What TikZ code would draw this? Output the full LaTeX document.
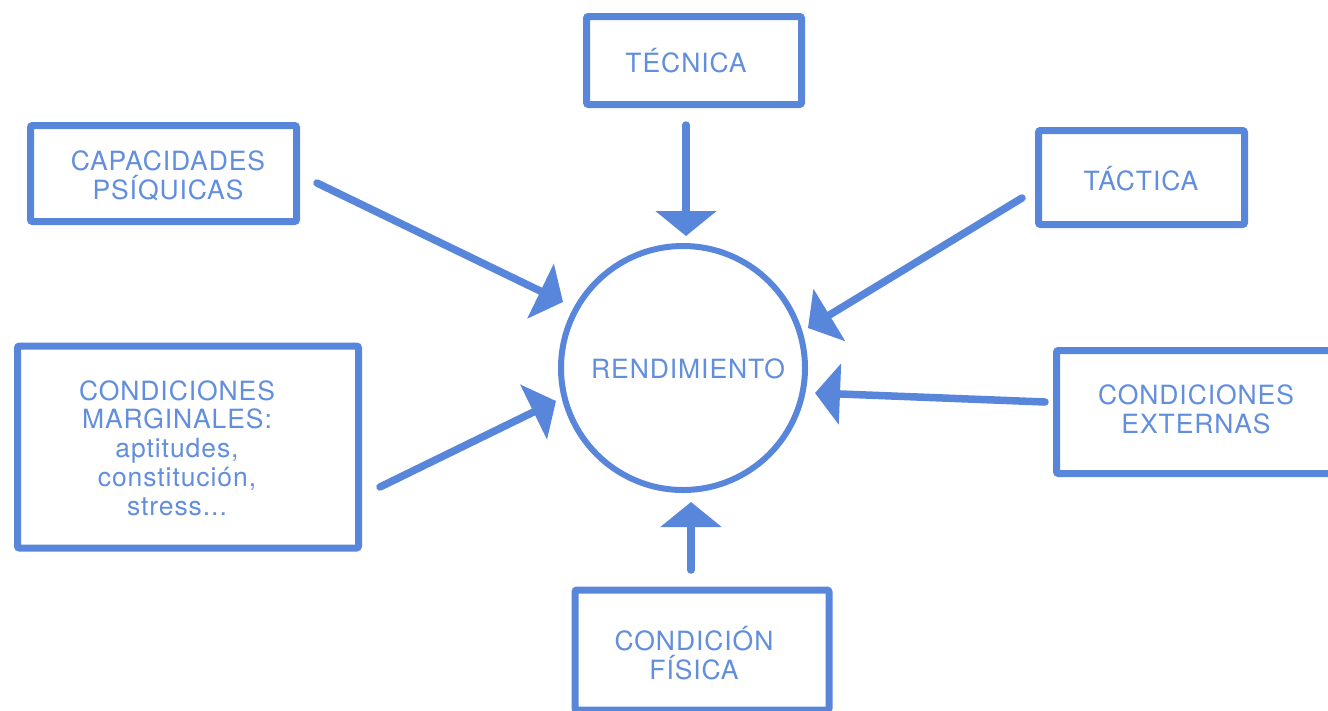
\documentclass[tikz,border=0pt]{standalone}
\usepackage{fontspec}
\setmainfont{TeX Gyre Heros}[LetterSpace=3.5]
\usetikzlibrary{arrows.meta}
\definecolor{dblue}{RGB}{88,134,218}
\definecolor{tblue}{RGB}{98,142,222}
\tikzset{
  box/.style={draw=dblue, line width=7pt, rounded corners=2pt, inner sep=0pt},
  txt/.style={align=center, text=tblue, font=\fontsize{26.5}{28.8}\selectfont, inner sep=0pt},
  arr/.style={draw=dblue, line width=7.5pt, line cap=round,
    -{Triangle[length=25pt,width=60pt]}},
}
\begin{document}
\begin{tikzpicture}[x=1pt,y=-1pt]
\useasboundingbox (0,0) rectangle (1328,710);
\clip (0,0) rectangle (1328,710);
\fill[white] (0,0) rectangle (1328,710);

\node[circle, draw=dblue, line width=6pt, minimum size=244pt, inner sep=0pt] (rend) at (683,368) {};
\node[txt] (rendT) at (688,369) {RENDIMIENTO};

\node[box, minimum width=215pt, minimum height=88pt] (tec) at (694,60.5) {};
\node[txt] (tecT) at (686,61) {TÉCNICA};

\node[box, minimum width=266pt, minimum height=96pt] (cap) at (163.5,173.5) {};
\node[txt] (capT) at (168,176) {CAPACIDADES\\PSÍQUICAS};

\node[box, minimum width=206pt, minimum height=94pt] (tac) at (1141.5,177.5) {};
\node[txt] (tacT) at (1141,179) {TÁCTICA};

\node[box, minimum width=341pt, minimum height=202pt] (mar) at (188,447) {};
\node[txt] (marT) at (177,448) {CONDICIONES\\MARGINALES:\\aptitudes,\\constitución,\\stress...};

\node[box, minimum width=279pt, minimum height=123pt] (ext) at (1196,412) {};
\node[txt] (extT) at (1196,409) {CONDICIONES\\EXTERNAS};

\node[box, minimum width=254pt, minimum height=120pt] (fis) at (702,650) {};
\node[txt] (fisT) at (694,653) {CONDICIÓN\\FÍSICA};

\coordinate (s1) at (686,125);   \coordinate (t1) at (686,236);
\coordinate (s2) at (317,183);   \coordinate (t2) at (563,302);
\coordinate (s3) at (1022,198);  \coordinate (t3) at (808,328);
\coordinate (s4) at (380,487);   \coordinate (t4) at (556,401);
\coordinate (s5) at (1045,402);  \coordinate (t5) at (815,393);
\coordinate (s6) at (691,570);   \coordinate (t6) at (691,502);

\draw[arr] (s1) -- (t1);
\draw[arr] (s2) -- (t2);
\draw[arr] (s3) -- (t3);
\draw[arr] (s4) -- (t4);
\draw[arr] (s5) -- (t5);
\draw[arr] (s6) -- (t6);
\end{tikzpicture}
\end{document}
